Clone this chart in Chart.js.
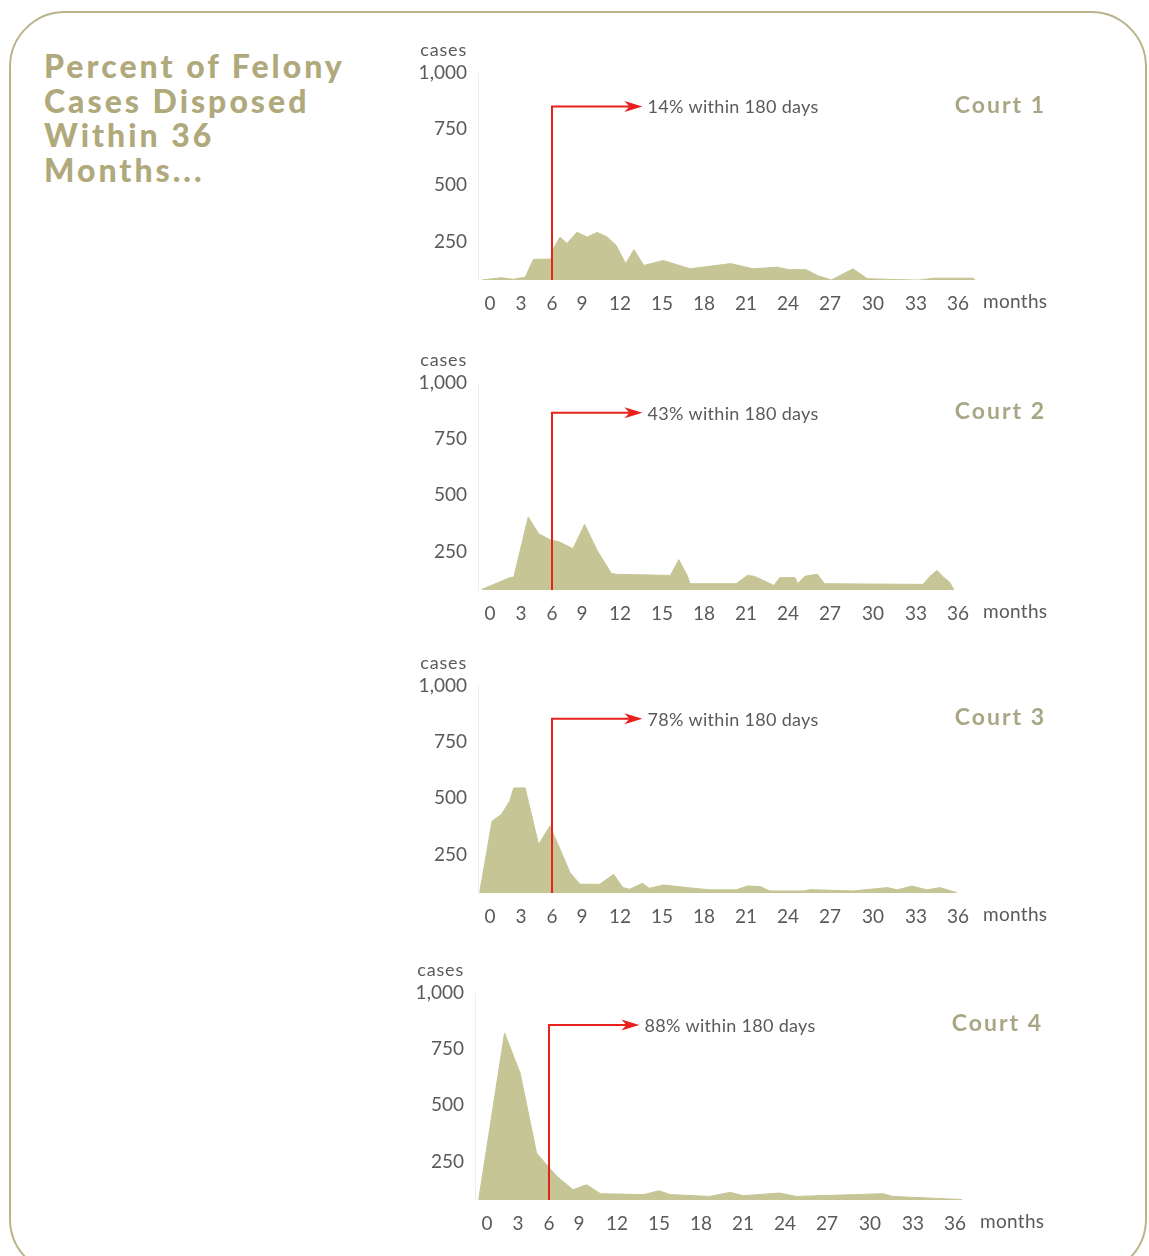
<!DOCTYPE html>
<html>
<head>
<meta charset="utf-8">
<script src="https://cdn.jsdelivr.net/npm/chart.js@4/dist/chart.umd.min.js"></script>
<style>
  html, body { margin:0; padding:0; background:#fff; }
  body { width:1149px; height:1256px; position:relative; overflow:hidden; font-family: Lato, "Open Sans", sans-serif; }
  #frame { position:absolute; left:9px; top:11px; width:1138px; height:1264px; box-sizing:border-box;
           border:2.5px solid #bbb38c; border-radius:56px; }
  #title { position:absolute; left:44px; top:49px; font-family: Lato, sans-serif; font-weight:900;
           font-size:32px; line-height:34.7px; color:#b0a97c; letter-spacing:3px; }
  .panel { position:absolute; }
</style>
</head>
<body>
<div id="frame"></div>
<div id="title">Percent of Felony<br>Cases Disposed<br>Within 36<br>Months...</div>
<div class="panel" id="p1"><canvas id="c1" width="660" height="283"></canvas></div>
<div class="panel" id="p2"><canvas id="c2" width="660" height="283"></canvas></div>
<div class="panel" id="p3"><canvas id="c3" width="660" height="283"></canvas></div>
<div class="panel" id="p4"><canvas id="c4" width="660" height="283"></canvas></div>
<script>
// ---------------- DATA ----------------
const courtNames = ["Court 1", "Court 2", "Court 3", "Court 4"];
const shareWithin180 = ["14% within 180 days", "43% within 180 days", "78% within 180 days", "88% within 180 days"];
const xTickMonths = [0, 3, 6, 9, 12, 15, 18, 21, 24, 27, 30, 33, 36];
const yTickCases = [250, 500, 750, 1000];
const cutoffMonth = 6;

const court1Months = [-0.8, 1.1, 2.2, 3.4, 4.2, 5.6, 5.9, 6.1, 6.8, 7.5, 8.5, 9.4, 10.2, 11.0, 11.7, 12.4, 13.0, 13.7, 15.1, 17.0, 19.9, 21.5, 23.2, 24.1, 25.3, 26.1, 27.1, 28.6, 29.6, 32.8, 33.3, 34.2, 37.1, 37.2];
const court1Cases  = [78, 88, 81, 90, 170, 171, 171, 215, 269, 241, 291, 269, 290, 269, 232, 151, 213, 143, 165, 128, 151, 128, 135, 124, 124, 98, 78, 128, 84, 78, 78, 86, 86, 78];

const court2Months = [-0.8, 1.9, 2.3, 3.7, 4.7, 5.8, 6.8, 8.1, 9.2, 10.2, 11.3, 11.7, 15.6, 16.2, 16.8, 17.0, 20.3, 21.1, 21.6, 23.0, 23.4, 24.5, 24.7, 25.2, 26.1, 26.6, 33.5, 34.0, 34.5, 35.0, 35.4, 35.7];
const court2Cases  = [80, 133, 135, 403, 329, 302, 291, 262, 370, 254, 153, 148, 143, 213, 143, 106, 106, 143, 139, 98, 133, 133, 106, 139, 148, 106, 103, 139, 165, 133, 113, 80];

const court3Months = [-1.0, 0.2, 1.1, 1.9, 2.3, 3.4, 4.7, 5.8, 6.6, 7.8, 8.8, 10.4, 11.5, 12.2, 12.7, 13.6, 14.1, 15.1, 16.8, 18.4, 20.3, 21.1, 22.0, 22.7, 25.1, 25.6, 28.6, 31.0, 31.7, 32.7, 33.8, 34.7, 35.9];
const court3Cases  = [80, 398, 428, 487, 546, 546, 294, 376, 294, 169, 117, 117, 161, 102, 95, 121, 99, 114, 102, 92, 92, 109, 107, 87, 87, 93, 87, 102, 92, 109, 92, 102, 80];

const court4Months = [-0.8, 1.7, 3.2, 4.8, 5.9, 6.8, 8.4, 9.6, 10.7, 13.9, 15.0, 15.8, 18.6, 20.1, 21.0, 23.6, 24.8, 30.9, 31.6, 36.5];
const court4Cases  = [80, 822, 644, 287, 228, 183, 124, 146, 106, 102, 119, 102, 94, 112, 97, 109, 94, 106, 94, 80];

const arrowLevel = [851, 867, 854, 858];   // cases level of the callout line
const arrowTipMonth = 13.6;

// ---------------- LAYOUT / STYLE ----------------
const panelPos = [[400, 33], [400, 343], [400, 646], [397, 953]];
const AREA_W = 502;                 // nominal plot width
const ZERO_OFF = 12;                // offset of month 0 from plot left
const TICK_GAPS = [31,31,30,38,42,42,42,42,42,43,43,42]; // spacing of the month labels
const FILL = '#c6c595';
const RED = '#e8211d';
const TXT = '#5a5a5a';

function warpPx(m) {
  if (m <= 0) return ZERO_OFF + m * TICK_GAPS[0] / 3;
  let px = ZERO_OFF;
  for (let i = 0; i < TICK_GAPS.length; i++) {
    const a = i * 3;
    if (m <= a + 3) return px + (m - a) / 3 * TICK_GAPS[i];
    px += TICK_GAPS[i];
  }
  return px + (m - 36) / 3 * TICK_GAPS[TICK_GAPS.length - 1];
}
function unwarpPx(p) {
  if (p <= ZERO_OFF) return (p - ZERO_OFF) / (TICK_GAPS[0] / 3);
  let px = ZERO_OFF;
  for (let i = 0; i < TICK_GAPS.length; i++) {
    if (p <= px + TICK_GAPS[i]) return i * 3 + (p - px) / TICK_GAPS[i] * 3;
    px += TICK_GAPS[i];
  }
  return 36 + (p - px) / (TICK_GAPS[TICK_GAPS.length - 1] / 3);
}

class WarpScale extends Chart.LinearScale {
  static id = 'warp';
  static defaults = Chart.LinearScale.defaults;
  getPixelForValue(value) {
    if (value === null || isNaN(value)) return NaN;
    return this.getPixelForDecimal(warpPx(value) / AREA_W);
  }
  getValueForPixel(pixel) {
    return unwarpPx(this.getDecimalForPixel(pixel) * AREA_W);
  }
}
Chart.register(WarpScale);

Chart.defaults.font.family = 'Lato, "Open Sans", sans-serif';

const overlay = {
  id: 'overlay',
  afterDatasetsDraw(chart, args, opts) {
    const { ctx, chartArea, scales: { x, y } } = chart;
    const i = opts.index;
    const xv = x.getPixelForValue(cutoffMonth);
    const yv = y.getPixelForValue(arrowLevel[i]);
    const xt = x.getPixelForValue(arrowTipMonth);
    ctx.save();
    ctx.strokeStyle = RED;
    ctx.lineWidth = 2;
    ctx.beginPath();
    ctx.moveTo(xv, chartArea.bottom);
    ctx.lineTo(xv, yv);
    ctx.lineTo(xt - 12, yv);
    ctx.stroke();
    ctx.fillStyle = RED;
    ctx.beginPath();
    ctx.moveTo(xt, yv);
    ctx.lineTo(xt - 18, yv - 5.5);
    ctx.lineTo(xt - 13, yv);
    ctx.lineTo(xt - 18, yv + 5.5);
    ctx.closePath();
    ctx.fill();

    ctx.fillStyle = TXT;
    ctx.font = '18px Lato, "Open Sans", sans-serif';
    ctx.letterSpacing = '0.3px';
    ctx.textBaseline = 'middle';
    ctx.textAlign = 'left';
    ctx.fillText(shareWithin180[i], xt + 5, yv + 1);

    ctx.fillStyle = '#a9a685';
    ctx.font = 'bold 23px Lato, "Open Sans", sans-serif';
    ctx.letterSpacing = '2px';
    ctx.textAlign = 'right';
    ctx.fillText(courtNames[i], chartArea.right + 66, yv - 1);

    ctx.fillStyle = TXT;
    ctx.font = '19px Lato, "Open Sans", sans-serif';
    ctx.letterSpacing = '0.3px';
    ctx.textAlign = 'left';
    ctx.fillText('months', x.getPixelForValue(36) + 25, chartArea.bottom + 22);

    ctx.font = '18px Lato, "Open Sans", sans-serif';
    ctx.letterSpacing = '0.8px';
    ctx.textAlign = 'right';
    ctx.fillText('cases', chartArea.left - 11, chartArea.top - 23);
    ctx.letterSpacing = '0px';
    ctx.restore();
  }
};

const allMonths = [court1Months, court2Months, court3Months, court4Months];
const allCases = [court1Cases, court2Cases, court3Cases, court4Cases];

for (let i = 0; i < 4; i++) {
  const p = document.getElementById('p' + (i + 1));
  p.style.left = panelPos[i][0] + 'px';
  p.style.top = panelPos[i][1] + 'px';
  const pts = allMonths[i].map((m, k) => ({ x: m, y: allCases[i][k] }));
  new Chart(document.getElementById('c' + (i + 1)), {
    type: 'line',
    data: {
      datasets: [{
        data: pts,
        fill: 'start',
        backgroundColor: FILL,
        borderColor: FILL,
        borderWidth: 1,
        pointRadius: 0,
        tension: 0
      }]
    },
    options: {
      responsive: false,
      maintainAspectRatio: false,
      animation: false,
      devicePixelRatio: 1,
      layout: { padding: { top: 40, right: 80, bottom: 0, left: 0 } },
      plugins: { legend: { display: false }, tooltip: { enabled: false }, overlay: { index: i } },
      scales: {
        x: {
          type: 'warp',
          min: -1.2,
          max: 37.5,
          grid: { display: false },
          border: { display: false },
          afterBuildTicks: s => { s.ticks = xTickMonths.map(v => ({ value: v })); },
          afterFit: s => { s.height = 36; },
          ticks: { color: TXT, font: { size: 19 }, padding: 4, maxRotation: 0, autoSkip: false,
                   callback: v => String(v) }
        },
        y: {
          type: 'linear',
          min: 78,
          max: 1000,
          grid: { display: false },
          border: { display: true, color: '#eeeeee', width: 1 },
          afterBuildTicks: s => { s.ticks = yTickCases.map(v => ({ value: v })); },
          afterFit: s => { s.width = 78; },
          ticks: { color: TXT, font: { size: 19 }, padding: 3,
                   callback: v => v.toLocaleString('en-US') }
        }
      }
    },
    plugins: [overlay]
  });
}
</script>
</body>
</html>
